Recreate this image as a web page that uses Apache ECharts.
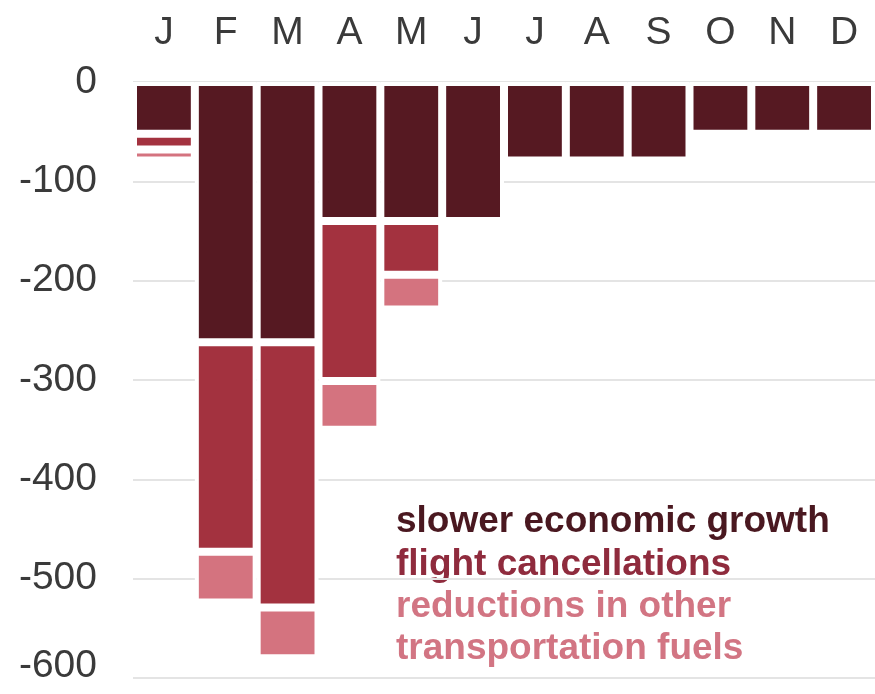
<!DOCTYPE html>
<html>
<head>
<meta charset="utf-8">
<script src="https://cdn.jsdelivr.net/npm/echarts@6/dist/echarts.min.js"></script>
<style>
html,body{margin:0;padding:0;background:#fff;}
#c{width:875px;height:694px;}
</style>
</head>
<body>
<div id="c"></div>
<script>
const months = ['Jan','Feb','Mar','Apr','May','Jun','Jul','Aug','Sep','Oct','Nov','Dec'];
const monthLabels = ['J','F','M','A','M','J','J','A','S','O','N','D'];
const slowerGrowth = [-52,-262,-262,-140,-140,-140,-79,-79,-79,-52,-52,-52];
const flightCancellations = [-16,-211,-267,-161,-54,0,0,0,0,0,0,0];
const otherFuels = [-11,-51,-51,-49,-35,0,0,0,0,0,0,0];
const seriesNames = ['slower economic growth','flight cancellations','reductions in other','transportation fuels'];

const colors = ['#561922','#a3323f','#d4737f'];
const textColors = ['#4a1820','#8f2b3d','#d27583','#d27583'];
const font = '"Liberation Sans", Arial, sans-serif';

const chart = echarts.init(document.getElementById('c'));
const mk = (name, data, color) => ({
  name, type:'bar', stack:'total', data,
  barCategoryGap:'0%',
  itemStyle:{color, borderColor:'#ffffff', borderWidth:4},
  emphasis:{disabled:true}
});
const legendY = [519, 562, 604, 646];
chart.setOption({
  animation:false,
  grid:{left:133, right:0, top:82, bottom:16},
  xAxis:{
    type:'category', position:'top', data:months,
    axisLine:{show:false}, axisTick:{show:false},
    axisLabel:{formatter:(v,i)=>monthLabels[i], fontSize:39, color:'#3a3a3a', fontFamily:font, margin:29}
  },
  yAxis:{
    type:'value', min:-600, max:0, interval:100,
    axisLine:{show:false}, axisTick:{show:false},
    axisLabel:{
      fontSize:39, color:'#3a3a3a', fontFamily:font, margin:36,
      formatter:(v)=> v === -600 ? '{b|' + v + '}' : String(v),
      rich:{b:{fontSize:39, color:'#3a3a3a', fontFamily:font, padding:[0,0,24,0]}}
    },
    splitLine:{lineStyle:{color:'#e4e4e4', width:2}}
  },
  series:[
    mk(seriesNames[0], slowerGrowth, colors[0]),
    mk(seriesNames[1], flightCancellations, colors[1]),
    mk(seriesNames[2] + ' ' + seriesNames[3], otherFuels, colors[2])
  ],
  graphic: seriesNames.map((t, i) => ({
    type:'text', left:396, top:legendY[i] - 16,
    style:{text:t, fill:textColors[i], font:'bold 37px ' + font}
  }))
});
</script>
</body>
</html>
